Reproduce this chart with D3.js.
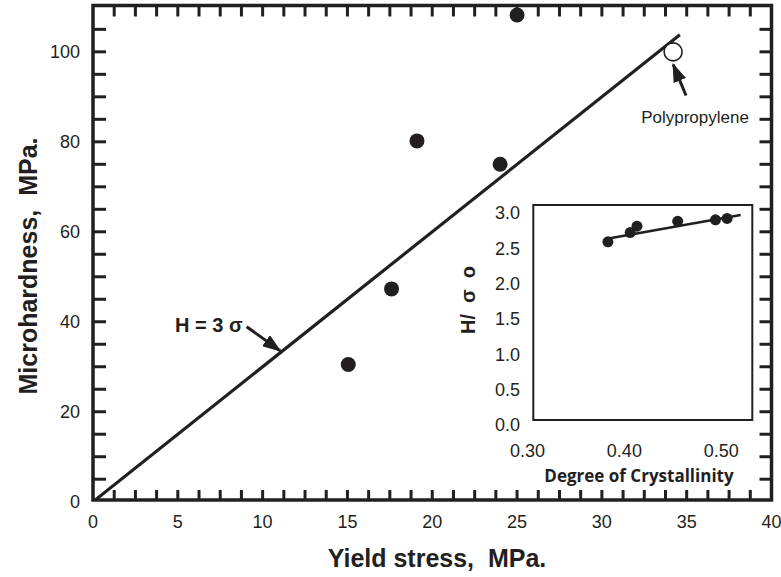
<!DOCTYPE html>
<html>
<head>
<meta charset="utf-8">
<script src="https://cdn.jsdelivr.net/npm/d3@7"></script>
<style>
  html, body { margin: 0; padding: 0; background: #fff; }
  svg text { font-family: "Liberation Sans", Arial, Helvetica, sans-serif; white-space: pre; }
</style>
</head>
<body>
<svg id="chart" width="781" height="577"></svg>
<script>
// Microhardness versus yield stress
const yieldStress   = [15.05, 17.6, 19.1, 24.0, 25.0];
const microhardness = [30.5, 47.3, 80.2, 75.0, 108.2];
const ppStress = [34.2];
const ppHardness = [100];
const fitStress = [0, 34.6];          // H = 3σ reference line
const xTickLabels = [0, 5, 10, 15, 20, 25, 30, 35, 40];
const yTickLabels = [0, 20, 40, 60, 80, 100];

// Inset: H/σo versus degree of crystallinity
const crystallinity = [0.383, 0.406, 0.413, 0.455, 0.494, 0.506];
const hOverSigma    = [2.59, 2.72, 2.81, 2.88, 2.90, 2.92];
const insetFitX = [0.385, 0.520];
const insetFitY = [2.64, 2.97];
const insetXTicks = [0.30, 0.40, 0.50];
const insetYTicks = [0.0, 0.5, 1.0, 1.5, 2.0, 2.5, 3.0];

const ink = "#231f20";
const svg = d3.select("#chart");

const x = d3.scaleLinear().domain([0, 40]).range([93, 771.5]);
const y = d3.scaleLinear().domain([0.38, 110.3]).range([500, 5.5]);

// arrow head marker
const defs = svg.append("defs");
defs.append("marker")
  .attr("id", "arrow").attr("viewBox", "0 0 14 10")
  .attr("refX", 13).attr("refY", 5)
  .attr("markerWidth", 6.3).attr("markerHeight", 4.5)
  .attr("markerUnits", "strokeWidth")
  .attr("orient", "auto")
  .append("path").attr("d", "M0,0 L14,5 L0,10 z").attr("fill", ink);

defs.append("clipPath").attr("id", "plotClip")
  .append("rect")
  .attr("x", x(0)).attr("y", y.range()[1])
  .attr("width", x(40) - x(0)).attr("height", y.range()[0] - y.range()[1]);

// minor tick marks, drawn inward on all four sides
const xMinor = d3.range(1, 32).map(i => i * 1.25);
const yMinor = d3.range(1, 22).map(i => i * 5);
const ticks = svg.append("g").attr("stroke", ink).attr("stroke-width", 3);
ticks.selectAll(".tb").data(xMinor).join("line")
  .attr("x1", d => x(d)).attr("x2", d => x(d))
  .attr("y1", y.range()[0]).attr("y2", y.range()[0] - 10);
ticks.selectAll(".tt").data(xMinor).join("line")
  .attr("x1", d => x(d)).attr("x2", d => x(d))
  .attr("y1", y.range()[1]).attr("y2", y.range()[1] + 11);
ticks.selectAll(".tl").data(yMinor).join("line")
  .attr("x1", x(0)).attr("x2", x(0) + 13)
  .attr("y1", d => y(d)).attr("y2", d => y(d));
ticks.selectAll(".tr").data(yMinor).join("line")
  .attr("x1", x(40)).attr("x2", x(40) - 12)
  .attr("y1", d => y(d)).attr("y2", d => y(d));

// frame
svg.append("rect")
  .attr("x", x(0)).attr("y", y.range()[1])
  .attr("width", x(40) - x(0)).attr("height", y.range()[0] - y.range()[1])
  .attr("fill", "none").attr("stroke", ink).attr("stroke-width", 3.5);

// tick labels
svg.append("g").selectAll("text").data(xTickLabels).join("text")
  .attr("x", d => x(d)).attr("y", 528)
  .attr("text-anchor", "middle").attr("font-size", 18).attr("fill", ink)
  .text(d => d);
svg.append("g").selectAll("text").data(yTickLabels).join("text")
  .attr("x", 80).attr("y", d => y(d) + 6.5)
  .attr("text-anchor", "end").attr("font-size", 18).attr("fill", ink)
  .text(d => d);

// axis titles
svg.append("text")
  .attr("x", 437).attr("y", 567)
  .attr("text-anchor", "middle").attr("font-size", 25).attr("font-weight", "bold").attr("fill", ink)
  .text("Yield stress,  MPa.");
svg.append("text")
  .attr("transform", "translate(37,266) rotate(-90)")
  .attr("text-anchor", "middle").attr("font-size", 25).attr("font-weight", "bold").attr("fill", ink)
  .text("Microhardness,  MPa.");

// H = 3σ line
const plot = svg.append("g").attr("clip-path", "url(#plotClip)");
plot.append("line")
  .attr("x1", x(fitStress[0])).attr("y1", y(3 * fitStress[0]))
  .attr("x2", x(fitStress[1])).attr("y2", y(3 * fitStress[1]))
  .attr("stroke", ink).attr("stroke-width", 3.2);

// data points
svg.append("g").selectAll("circle").data(yieldStress).join("circle")
  .attr("cx", d => x(d)).attr("cy", (d, i) => y(microhardness[i]))
  .attr("r", 7.5).attr("fill", ink);
svg.append("g").selectAll("circle").data(ppStress).join("circle")
  .attr("cx", d => x(d)).attr("cy", (d, i) => y(ppHardness[i]))
  .attr("r", 9).attr("fill", "#fff").attr("stroke", ink).attr("stroke-width", 1.6);

// annotations
const lineTip = 11.1;
svg.append("line")
  .attr("x1", x(9.06)).attr("y1", y(38.9))
  .attr("x2", x(lineTip) - 1).attr("y2", y(3 * lineTip) - 1)
  .attr("stroke", ink).attr("stroke-width", 3).attr("marker-end", "url(#arrow)");
svg.append("text")
  .attr("x", x(9.06) - 4).attr("y", y(38.9) + 5)
  .attr("text-anchor", "end").attr("font-size", 20).attr("font-weight", "bold").attr("fill", ink)
  .text("H = 3 σ");

svg.append("line")
  .attr("x1", x(34.96)).attr("y1", y(90.3))
  .attr("x2", x(ppStress[0])).attr("y2", y(ppHardness[0]) + 12.5)
  .attr("stroke", ink).attr("stroke-width", 3).attr("marker-end", "url(#arrow)");
svg.append("text")
  .attr("x", 695).attr("y", 123)
  .attr("text-anchor", "middle").attr("font-size", 17).attr("fill", ink)
  .text("Polypropylene");

// inset
const ix = d3.scaleLinear().domain([0.306, 0.532]).range([533.3, 752.3]);
const iy = d3.scaleLinear().domain([0.07, 3.11]).range([420, 205]);
const inset = svg.append("g");
inset.append("rect")
  .attr("x", ix.range()[0]).attr("y", iy.range()[1])
  .attr("width", ix.range()[1] - ix.range()[0]).attr("height", iy.range()[0] - iy.range()[1])
  .attr("fill", "#fff").attr("stroke", ink).attr("stroke-width", 2);
inset.selectAll(".iyl").data(insetYTicks).join("text")
  .attr("x", 520).attr("y", d => iy(d) + 6.5)
  .attr("text-anchor", "end").attr("font-size", 18).attr("fill", ink)
  .text(d => d.toFixed(1));
inset.selectAll(".ixl").data(insetXTicks).join("text")
  .attr("x", d => ix(d)).attr("y", 457)
  .attr("text-anchor", "middle").attr("font-size", 18).attr("fill", ink)
  .text(d => d.toFixed(2));
inset.append("text")
  .attr("x", 639).attr("y", 482)
  .attr("text-anchor", "middle").attr("font-size", 17).attr("font-weight", "bold")
  .style("font-family", "'Open Sans', 'Liberation Sans', sans-serif").attr("fill", ink)
  .text("Degree of Crystallinity");
inset.append("text")
  .attr("transform", "translate(475,300) rotate(-90)")
  .attr("text-anchor", "middle").attr("font-size", 20).attr("font-weight", "bold").attr("fill", ink)
  .text("H/  σ  o");
inset.append("line")
  .attr("x1", ix(insetFitX[0])).attr("y1", iy(insetFitY[0]))
  .attr("x2", ix(insetFitX[1])).attr("y2", iy(insetFitY[1]))
  .attr("stroke", ink).attr("stroke-width", 2.5);
inset.selectAll("circle").data(crystallinity).join("circle")
  .attr("cx", d => ix(d)).attr("cy", (d, i) => iy(hOverSigma[i]))
  .attr("r", 5.5).attr("fill", ink);
</script>
</body>
</html>
